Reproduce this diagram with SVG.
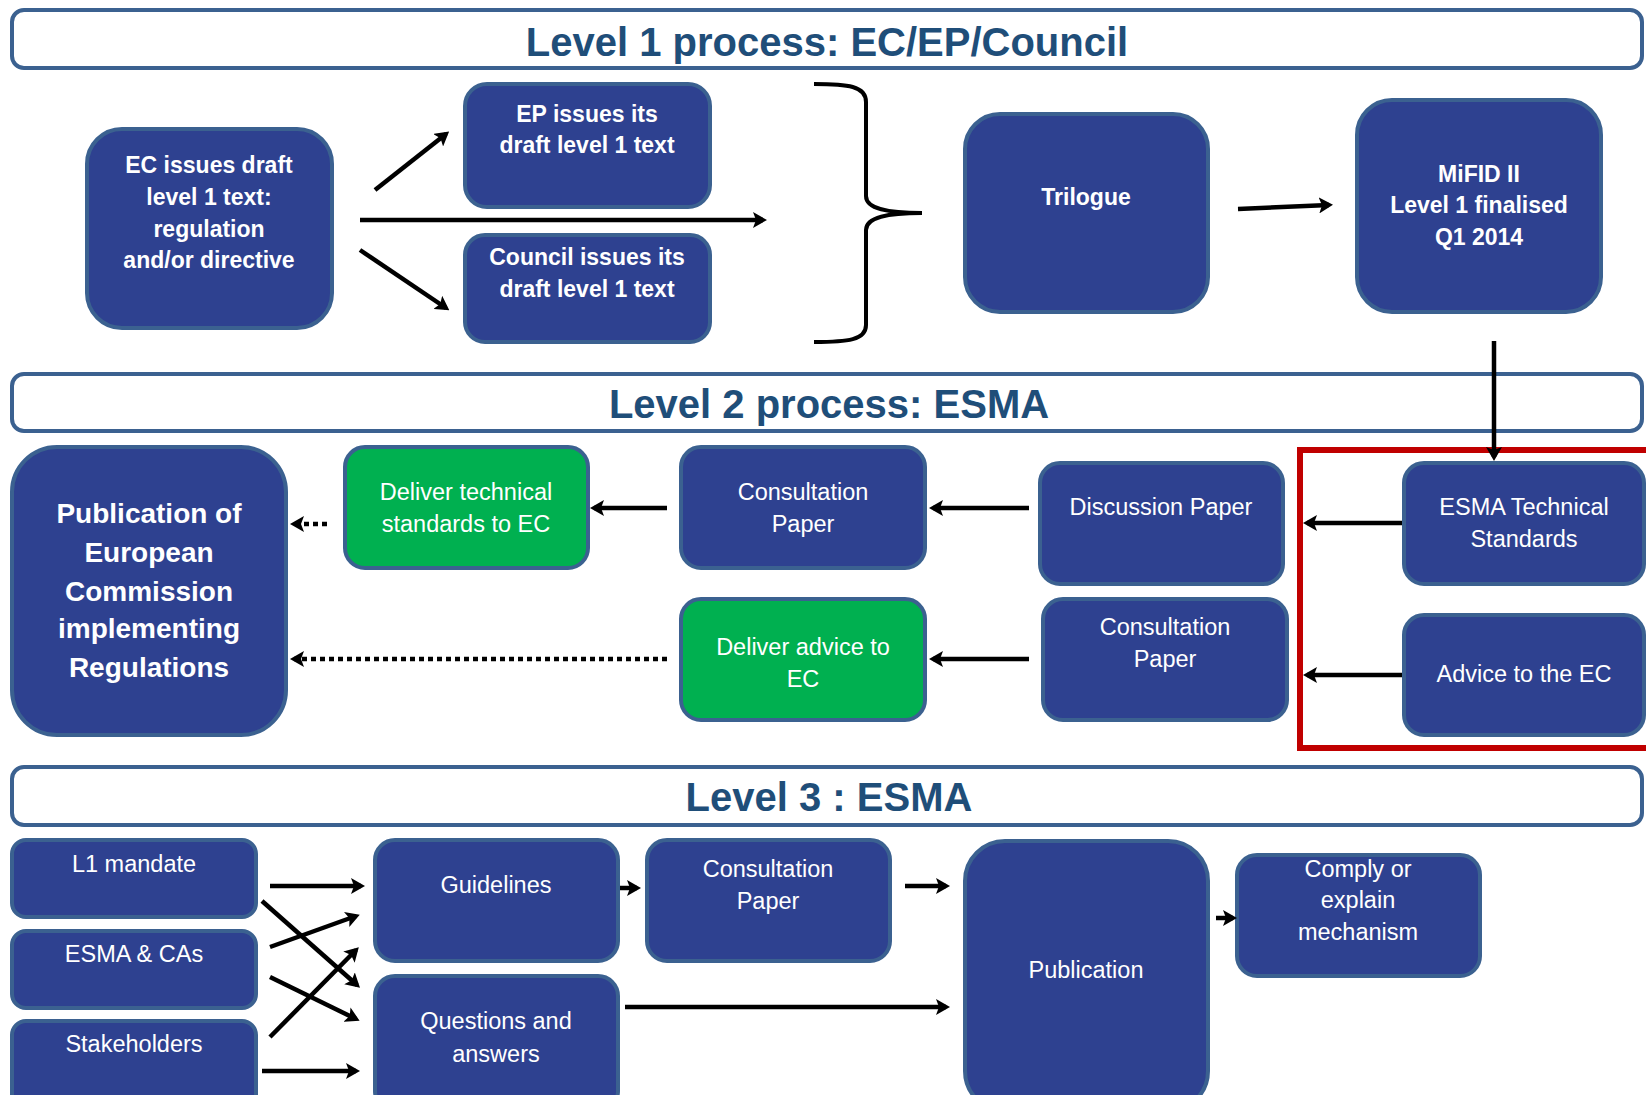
<svg xmlns="http://www.w3.org/2000/svg" width="1646" height="1095" viewBox="0 0 1646 1095">
<defs>
<style>
.node{fill:#2E4190;stroke:#3B6190;stroke-width:4}
.green{fill:#00B050}
.hdr{fill:#fff;stroke:#3B6190;stroke-width:4}
.red{fill:none;stroke:#C00000;stroke-width:6}
text{font-family:'Liberation Sans',Arial,sans-serif;text-anchor:middle}
.t{fill:#fff;font-size:23.5px}
.b{font-weight:bold;font-size:23px}
.pub{font-size:28px}
.title{fill:#1F4E79;font-size:40px;font-weight:bold}
.conn line{stroke:#000;stroke-width:4.5;fill:none;marker-end:url(#ah)}
.conn .dot{stroke-dasharray:5 4}
.brace{stroke:#000;stroke-width:4;fill:none}
</style>
<marker id="ah" markerUnits="userSpaceOnUse" markerWidth="14" markerHeight="16" viewBox="0 0 14 16" refX="10" refY="8" orient="auto">
<path d="M0,0 L14,8 L0,16 L3,8 z" fill="#000"/>
</marker>
</defs>
<rect width="1646" height="1095" fill="#fff"/>

<g id="header1"><rect class="hdr" x="12" y="10" width="1630" height="58" rx="12"/><text class="title" x="827" y="56">Level 1 process: EC/EP/Council</text></g>
<g id="header2"><rect class="hdr" x="12" y="374" width="1630" height="57" rx="12"/><text class="title" x="829" y="418">Level 2 process: ESMA</text></g>
<g id="header3"><rect class="hdr" x="12" y="767" width="1630" height="58" rx="12"/><text class="title" x="829" y="811">Level 3 : ESMA</text></g>

<g id="ec-draft"><rect class="node" x="87" y="129" width="245" height="199" rx="35"/>
<text class="t b"><tspan x="209" y="173">EC issues draft</tspan><tspan x="209" y="205">level 1 text:</tspan><tspan x="209" y="237">regulation</tspan><tspan x="209" y="268">and/or directive</tspan></text></g>
<g id="ep-draft"><rect class="node" x="465" y="84" width="245" height="123" rx="22"/>
<text class="t b"><tspan x="587" y="122">EP issues its</tspan><tspan x="587" y="153">draft level 1 text</tspan></text></g>
<g id="council-draft"><rect class="node" x="465" y="235" width="245" height="107" rx="20"/>
<text class="t b"><tspan x="587" y="265">Council issues its</tspan><tspan x="587" y="297">draft level 1 text</tspan></text></g>
<g id="trilogue"><rect class="node" x="965" y="114" width="243" height="198" rx="35"/>
<text class="t b" x="1086" y="205">Trilogue</text></g>
<g id="mifid"><rect class="node" x="1357" y="100" width="244" height="212" rx="35"/>
<text class="t b"><tspan x="1479" y="182">MiFID II</tspan><tspan x="1479" y="213">Level 1 finalised</tspan><tspan x="1479" y="245">Q1 2014</tspan></text></g>

<g id="red-frame"><rect class="red" x="1300" y="450" width="360" height="298"/></g>

<g id="publication-ec"><rect class="node" x="12" y="447" width="274" height="288" rx="45"/>
<text class="t b pub"><tspan x="149" y="523">Publication of</tspan><tspan x="149" y="562">European</tspan><tspan x="149" y="601">Commission</tspan><tspan x="149" y="638">implementing</tspan><tspan x="149" y="677">Regulations</tspan></text></g>
<g id="deliver-ts"><rect class="node green" x="345" y="447" width="243" height="121" rx="20"/>
<text class="t"><tspan x="466" y="500">Deliver technical</tspan><tspan x="466" y="532">standards to EC</tspan></text></g>
<g id="consultation-ts"><rect class="node" x="681" y="447" width="244" height="121" rx="20"/>
<text class="t"><tspan x="803" y="500">Consultation</tspan><tspan x="803" y="532">Paper</tspan></text></g>
<g id="discussion"><rect class="node" x="1040" y="463" width="243" height="121" rx="20"/>
<text class="t" x="1161" y="515">Discussion Paper</text></g>
<g id="esma-ts"><rect class="node" x="1404" y="463" width="240" height="121" rx="20"/>
<text class="t"><tspan x="1524" y="515">ESMA Technical</tspan><tspan x="1524" y="547">Standards</tspan></text></g>
<g id="advice-ec"><rect class="node" x="1404" y="615" width="240" height="120" rx="20"/>
<text class="t" x="1524" y="682">Advice to the EC</text></g>
<g id="consultation-adv"><rect class="node" x="1043" y="599" width="244" height="121" rx="20"/>
<text class="t"><tspan x="1165" y="635">Consultation</tspan><tspan x="1165" y="667">Paper</tspan></text></g>
<g id="deliver-adv"><rect class="node green" x="681" y="599" width="244" height="121" rx="20"/>
<text class="t"><tspan x="803" y="655">Deliver advice to</tspan><tspan x="803" y="687">EC</tspan></text></g>

<g id="l1-mandate"><rect class="node" x="12" y="840" width="244" height="77" rx="14"/>
<text class="t" x="134" y="872">L1 mandate</text></g>
<g id="esma-cas"><rect class="node" x="12" y="931" width="244" height="77" rx="14"/>
<text class="t" x="134" y="962">ESMA &amp; CAs</text></g>
<g id="stakeholders"><rect class="node" x="12" y="1021" width="244" height="90" rx="14"/>
<text class="t" x="134" y="1052">Stakeholders</text></g>
<g id="guidelines"><rect class="node" x="375" y="840" width="243" height="121" rx="20"/>
<text class="t" x="496" y="893">Guidelines</text></g>
<g id="qa"><rect class="node" x="375" y="976" width="243" height="135" rx="20"/>
<text class="t"><tspan x="496" y="1029">Questions and</tspan><tspan x="496" y="1062">answers</tspan></text></g>
<g id="consultation-l3"><rect class="node" x="647" y="840" width="243" height="121" rx="20"/>
<text class="t"><tspan x="768" y="877">Consultation</tspan><tspan x="768" y="909">Paper</tspan></text></g>
<g id="publication"><rect class="node" x="965" y="841" width="243" height="270" rx="40"/>
<text class="t" x="1086" y="978">Publication</text></g>
<g id="comply"><rect class="node" x="1237" y="855" width="243" height="121" rx="20"/>
<text class="t"><tspan x="1358" y="877">Comply or</tspan><tspan x="1358" y="908">explain</tspan><tspan x="1358" y="940">mechanism</tspan></text></g>

<g id="connectors" class="conn">
<line x1="375" y1="190" x2="446" y2="134"/>
<line x1="360" y1="220" x2="763" y2="220"/>
<line x1="360" y1="250" x2="446" y2="308"/>
<path class="brace" d="M814,84 C848,84 866,86 866,102 L866,196 C866,209 888,213 922,213 C888,213 866,217 866,230 L866,325 C866,340 848,342 814,342"/>
<line x1="1238" y1="209" x2="1329" y2="205"/>
<line x1="1494" y1="341" x2="1494" y2="457"/>
<line x1="1402" y1="523" x2="1307" y2="523"/>
<line x1="1402" y1="675" x2="1307" y2="675"/>
<line x1="1029" y1="508" x2="933" y2="508"/>
<line x1="1029" y1="659" x2="933" y2="659"/>
<line x1="667" y1="508" x2="594" y2="508"/>
<line class="dot" x1="327" y1="524" x2="294" y2="524"/>
<line class="dot" x1="667" y1="659" x2="294" y2="659"/>
<line x1="270" y1="886" x2="361" y2="886"/>
<line x1="262" y1="1071" x2="356" y2="1071"/>
<line x1="262" y1="901" x2="357" y2="985"/>
<line x1="270" y1="947" x2="356" y2="916"/>
<line x1="270" y1="977" x2="356" y2="1019"/>
<line x1="270" y1="1037" x2="356" y2="950"/>
<line x1="620" y1="888" x2="637" y2="888"/>
<line x1="905" y1="886" x2="946" y2="886"/>
<line x1="625" y1="1007" x2="946" y2="1007"/>
<line x1="1216" y1="918" x2="1233" y2="918"/>
</g>
</svg>
